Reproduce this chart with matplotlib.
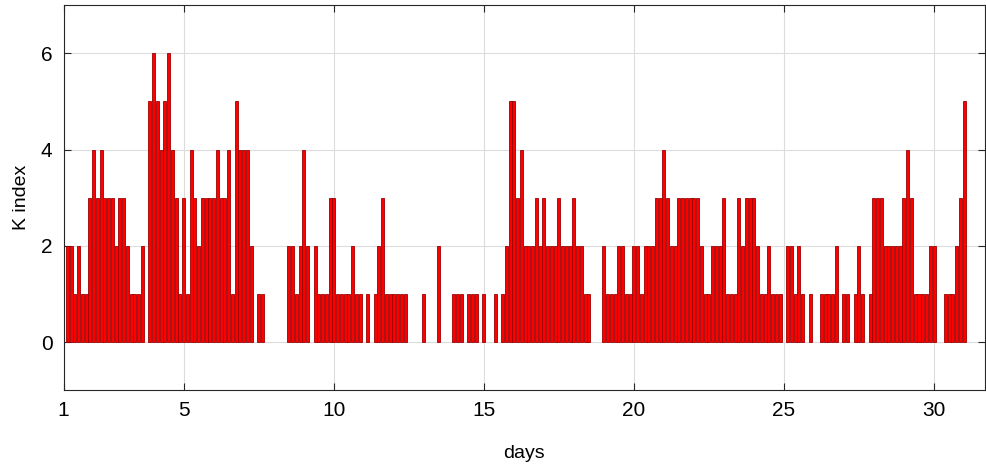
import numpy as np
import matplotlib
matplotlib.use('Agg')
import matplotlib.pyplot as plt

# K index, 8 three-hour values per day, days 1..30
k_index = [
    2, 2, 1, 2, 1, 1, 3, 4,   # day 1
    3, 4, 3, 3, 3, 2, 3, 3,
    2, 1, 1, 1, 2, 0, 5, 6,
    5, 4, 5, 6, 4, 3, 1, 3,
    1, 4, 3, 2, 3, 3, 3, 3,   # day 5
    4, 3, 3, 4, 1, 5, 4, 4,
    4, 2, 0, 1, 1, 0, 0, 0,
    0, 0, 0, 2, 2, 1, 2, 4,
    2, 0, 2, 1, 1, 1, 3, 3,
    1, 1, 1, 1, 2, 1, 1, 0,   # day 10
    1, 0, 1, 2, 3, 1, 1, 1,
    1, 1, 1, 0, 0, 0, 0, 1,
    0, 0, 0, 2, 0, 0, 0, 1,
    1, 1, 0, 1, 1, 1, 0, 1,
    0, 0, 1, 0, 1, 2, 5, 5,   # day 15
    3, 4, 2, 2, 2, 3, 2, 3,
    2, 2, 2, 3, 2, 2, 2, 3,
    2, 2, 1, 1, 0, 0, 0, 2,
    1, 1, 1, 2, 2, 1, 1, 2,
    2, 1, 2, 2, 2, 3, 3, 4,   # day 20
    3, 2, 2, 3, 3, 3, 3, 3,
    3, 2, 1, 1, 2, 2, 2, 3,
    1, 1, 1, 3, 2, 3, 3, 3,
    2, 1, 1, 2, 1, 1, 1, 0,
    2, 2, 1, 2, 1, 0, 1, 0,   # day 25
    0, 1, 1, 1, 1, 2, 0, 1,
    1, 0, 1, 2, 1, 0, 1, 3,
    3, 3, 2, 2, 2, 2, 2, 3,
    4, 3, 1, 1, 1, 1, 2, 2,
    0, 0, 1, 1, 1, 2, 3, 5,   # day 30
]
x_ticks = [1, 5, 10, 15, 20, 25, 30]
y_ticks = [0, 2, 4, 6]

t = 1 + np.arange(1, len(k_index) + 1) / 8
k = np.array(k_index)
nz = k > 0  # zero bars are not drawn at all

plt.rcParams['font.family'] = ['Liberation Sans', 'DejaVu Sans']

fig = plt.figure(figsize=(9.87, 4.68), dpi=100)
ax = fig.add_axes([0.0645, 0.166, 0.9335, 0.823])

ax.bar(t[nz], k[nz], width=0.8 / 8, color='red', edgecolor='#9a0000', linewidth=0.6, zorder=3)

ax.set_xlim(1, 31.7)
ax.set_ylim(-1, 7)
ax.set_xticks(x_ticks)
ax.set_yticks(y_ticks)
ax.grid(True, color='#dcdcdc', linewidth=0.8, zorder=0)
ax.tick_params(direction='in', top=True, right=True, length=5, labelsize=15, color='#262626', pad=8)
for s in ax.spines.values():
    s.set_color('#262626')
    s.set_linewidth(0.8)

ax.set_xlabel('days', fontsize=14, labelpad=18)
ax.set_ylabel('K index', fontsize=14, labelpad=8)

fig.savefig('out.png', dpi=100)
